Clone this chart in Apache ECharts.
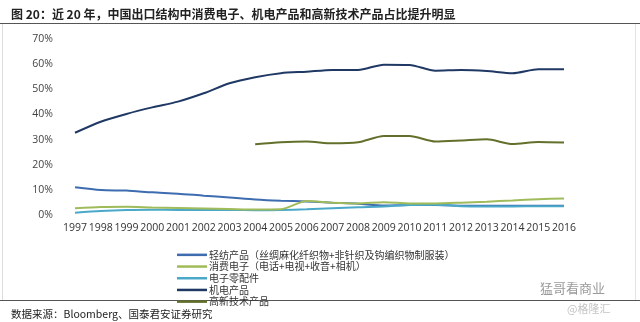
<!DOCTYPE html>
<html>
<head>
<meta charset="utf-8">
<script src="https://cdn.jsdelivr.net/npm/echarts@6/dist/echarts.min.js"></script>
<style>
  html, body { margin: 0; padding: 0; background: #fff; }
  #chart { width: 640px; height: 322px; }
</style>
</head>
<body>
<div id="chart"></div>
<script>
// Export share by product group, % of China's total exports
const years = ['1997','1998','1999','2000','2001','2002','2003','2004','2005','2006',
               '2007','2008','2009','2010','2011','2012','2013','2014','2015','2016'];
const yTicks = [0, 10, 20, 30, 40, 50, 60, 70];

const textile     = [11.0, 9.9, 9.7, 9.0, 8.5, 7.7, 7.0, 6.2, 5.7, 5.4, 4.9, 4.5, 3.8, 4.0, 4.0, 3.7, 3.7, 3.7, 3.7, 3.7];
const consumerEl  = [2.7, 3.2, 3.3, 3.0, 2.8, 2.6, 2.4, 2.2, 2.3, 5.6, 4.9, 4.6, 5.1, 4.6, 4.6, 4.9, 5.3, 5.8, 6.3, 6.6];
const components  = [0.9, 1.6, 2.0, 2.1, 2.0, 2.0, 2.0, 1.9, 2.0, 2.3, 2.7, 3.1, 3.4, 4.0, 4.1, 3.5, 3.4, 3.4, 3.5, 3.5];
const machinery   = [32.7, 37.1, 40.2, 42.8, 45.1, 48.4, 52.4, 54.8, 56.4, 57.0, 57.7, 57.7, 59.8, 59.7, 57.4, 57.7, 57.3, 56.4, 58.0, 58.0];
const highTech    = [null, null, null, null, null, null, null, 28.1, 28.9, 29.2, 28.5, 28.9, 31.4, 31.4, 29.2, 29.6, 30.1, 28.2, 29.0, 28.8];

const names = [
  '轻纺产品（丝绸麻化纤织物+非针织及钩编织物制服装）',
  '消费电子（电话+电视+收音+相机）',
  '电子零配件',
  '机电产品',
  '高新技术产品'
];
const colors = ['#3d6cb0', '#9fbb5a', '#4aa9c8', '#1f3864', '#63702c'];
const values = [textile, consumerEl, components, machinery, highTech];

const chart = echarts.init(document.getElementById('chart'), null, { renderer: 'canvas' });

const cjk = '"Noto Sans CJK SC", "DejaVu Sans", sans-serif';
const latin = '"Open Sans", "DejaVu Sans", sans-serif';

chart.setOption({
  animation: false,
  backgroundColor: '#fff',
  title: [{
    text: '图 20：近 20 年，中国出口结构中消费电子、机电产品和高新技术产品占比提升明显',
    left: 6, top: 3,
    textStyle: { fontFamily: cjk, fontSize: 12, fontWeight: 'bold', color: '#222' }
  }, {
    text: '数据来源：Bloomberg、国泰君安证券研究',
    left: 6, top: 304,
    textStyle: { fontFamily: cjk, fontSize: 10.5, fontWeight: 'normal', color: '#222' }
  }],
  graphic: [
    { type: 'line', shape: { x1: 0, y1: 23.5, x2: 640, y2: 23.5 }, style: { stroke: '#555', lineWidth: 1 } },
    { type: 'line', shape: { x1: 0, y1: 300.5, x2: 640, y2: 300.5 }, style: { stroke: '#555', lineWidth: 1 } },
    { type: 'line', shape: { x1: 2.5, y1: 24, x2: 2.5, y2: 300 }, style: { stroke: '#ddd', lineWidth: 1 } },
    { type: 'line', shape: { x1: 635.5, y1: 24, x2: 635.5, y2: 300 }, style: { stroke: '#e4e4e4', lineWidth: 1 } },
    { type: 'text', left: 540, top: 282, style: { text: '猛哥看商业', fontFamily: cjk, fontSize: 13, fill: '#9a9a9a' } },
    { type: 'text', left: 567, top: 303, style: { text: '@格隆汇', fontFamily: cjk, fontSize: 11, fill: '#c4c4c4' } }
  ],
  grid: { left: 75, right: 76, top: 39, bottom: 107, containLabel: false },
  legend: {
    orient: 'vertical',
    left: 172, top: 244,
    itemGap: 0,
    icon: 'rect',
    itemWidth: 30, itemHeight: 2.5,
    textStyle: { fontFamily: cjk, fontSize: 10, color: '#333', lineHeight: 11.7, padding: [0, 0, 0, -3] },
    data: names
  },
  xAxis: {
    type: 'category',
    data: years,
    boundaryGap: false,
    axisLine: { show: false },
    axisTick: { show: false },
    axisLabel: { margin: 8, fontFamily: latin, fontSize: 10.5, color: '#333', interval: 0 }
  },
  yAxis: {
    type: 'value',
    min: yTicks[0], max: yTicks[yTicks.length - 1], interval: 10,
    splitLine: { show: false },
    axisLine: { show: false },
    axisTick: { show: false },
    axisLabel: { margin: 22, fontFamily: latin, fontSize: 10.5, color: '#444', formatter: v => v + '%' }
  },
  series: names.map((n, i) => ({
    name: n,
    type: 'line',
    data: values[i],
    smooth: 0.25,
    symbol: 'none',
    color: colors[i],
    lineStyle: { width: 2, color: colors[i] },
    z: [2, 4, 3, 5, 5][i]
  }))
});
</script>
</body>
</html>
